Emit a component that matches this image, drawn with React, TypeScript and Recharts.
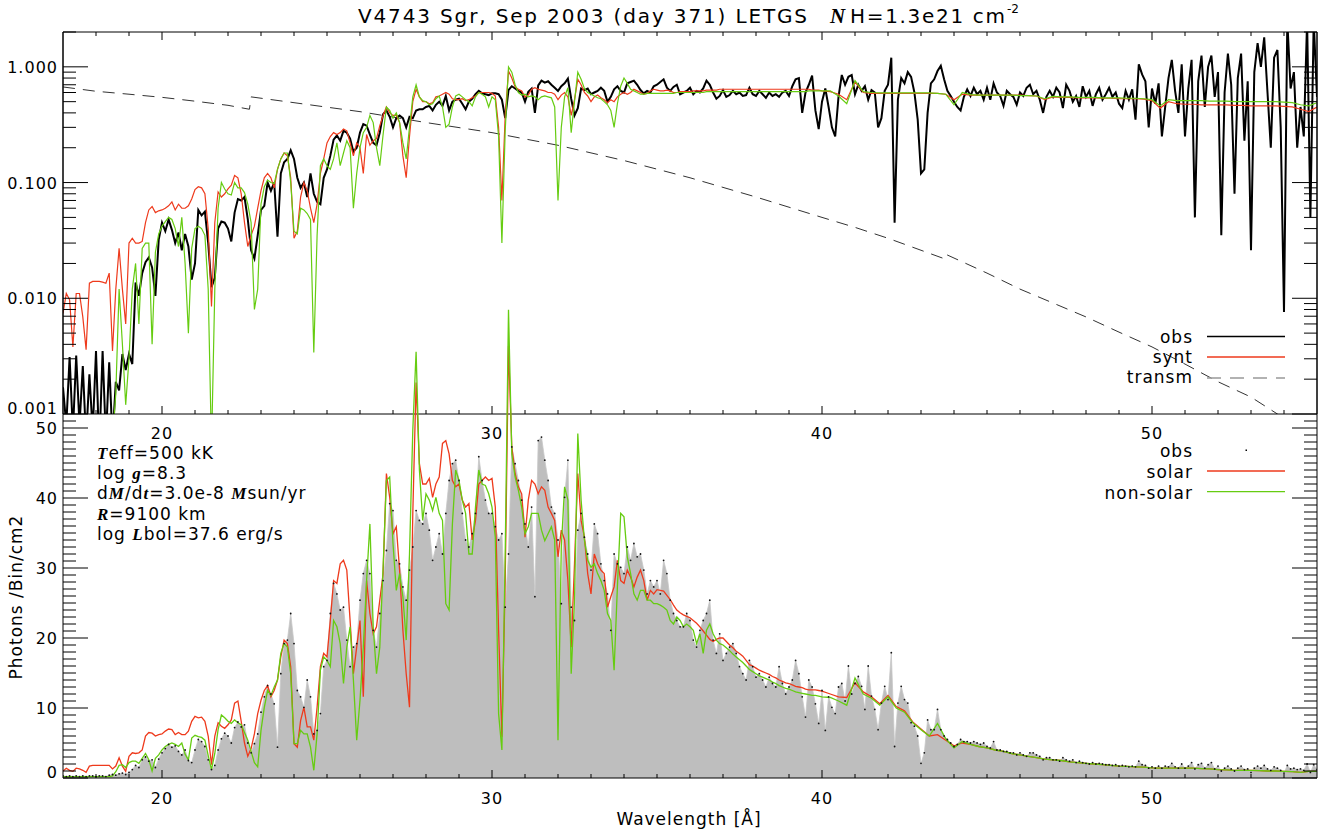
import React from 'react';
import { LineChart, ComposedChart, Line, Area, XAxis, YAxis } from 'recharts';

const W = 1321;
const H = 830;
const PL = 63;
const PR = 1317;
const PT = 32;
const PM = 414;
const PB = 778;
const YW_L = 50; // left y-axis band width
const YW_R = 4; // right y-axis band width
const XH = 20; // x-axis band height

// wavelength grids (Angstrom)
const WL_OBS: number[] = Array.from({ length: 381 }, (_, i) => Math.round((17 + i * 0.1) * 10) / 10);
const WL_MODEL: number[] = [
  ...Array.from({ length: 231 }, (_, i) => Math.round((17 + i * 0.1) * 10) / 10),
  ...Array.from({ length: 60 }, (_, i) => 40.25 + i * 0.25),
];

// ---------- upper panel (log flux) ----------
const OBS_TOP: number[] = [
  0.0017, 0.0008, 0.0031, 0.0007, 0.0032, 0.0008, 0.0026, 0.0006, 0.0022, 0.0007, // 17
  0.0035, 0.0005, 0.0035, 0.0006, 0.0028, 0.0006, 0.0019, 0.0016, 0.0033, 0.0024, // 18
  0.0033, 0.0027, 0.0137, 0.0105, 0.0165, 0.0205, 0.0225, 0.0185, 0.0105, 0.032, // 19
  0.045, 0.038, 0.048, 0.039, 0.030, 0.037, 0.026, 0.036, 0.028, 0.0145, // 20
  0.020, 0.058, 0.052, 0.056, 0.030, 0.0125, 0.015, 0.040, 0.046, 0.045, // 21
  0.040, 0.031, 0.055, 0.072, 0.070, 0.075, 0.048, 0.026, 0.022, 0.035, // 22
  0.058, 0.063, 0.10, 0.085, 0.10, 0.034, 0.12, 0.15, 0.16, 0.19, // 23
  0.16, 0.11, 0.09, 0.10, 0.075, 0.12, 0.08, 0.068, 0.065, 0.11, // 24
  0.13, 0.17, 0.235, 0.255, 0.23, 0.28, 0.27, 0.24, 0.185, 0.20, // 25
  0.27, 0.32, 0.31, 0.26, 0.22, 0.21, 0.27, 0.39, 0.42, 0.37, // 26
  0.30, 0.36, 0.38, 0.36, 0.30, 0.37, 0.36, 0.42, 0.43, 0.43, // 27
  0.45, 0.46, 0.42, 0.47, 0.50, 0.46, 0.56, 0.42, 0.50, 0.52, // 28
  0.53, 0.48, 0.43, 0.50, 0.53, 0.58, 0.62, 0.59, 0.58, 0.57, // 29
  0.59, 0.59, 0.58, 0.52, 0.36, 0.63, 0.68, 0.65, 0.62, 0.60, // 30
  0.50, 0.61, 0.65, 0.40, 0.69, 0.76, 0.73, 0.75, 0.70, 0.66, // 31
  0.62, 0.68, 0.72, 0.79, 0.53, 0.38, 0.44, 0.65, 0.63, 0.65, // 32
  0.58, 0.60, 0.62, 0.66, 0.62, 0.50, 0.55, 0.64, 0.68, 0.62, // 33
  0.60, 0.72, 0.74, 0.76, 0.70, 0.63, 0.59, 0.62, 0.60, 0.68, // 34
  0.70, 0.74, 0.78, 0.66, 0.62, 0.67, 0.70, 0.58, 0.60, 0.62, // 35
  0.66, 0.58, 0.62, 0.60, 0.65, 0.76, 0.70, 0.60, 0.53, 0.56, // 36
  0.63, 0.55, 0.57, 0.62, 0.58, 0.60, 0.56, 0.57, 0.66, 0.58, // 37
  0.56, 0.62, 0.58, 0.54, 0.60, 0.56, 0.58, 0.55, 0.60, 0.62, // 38
  0.56, 0.68, 0.78, 0.80, 0.40, 0.60, 0.70, 0.84, 0.42, 0.29, // 39
  0.50, 0.65, 0.45, 0.30, 0.25, 0.55, 0.85, 0.70, 0.82, 0.85, // 40
  0.58, 0.70, 0.62, 0.68, 0.52, 0.63, 0.60, 0.30, 0.36, 0.62, // 41
  0.70, 1.20, 0.045, 0.52, 0.80, 0.72, 0.90, 0.82, 0.60, 0.35, // 42
  0.12, 0.13, 0.40, 0.72, 0.78, 0.92, 1.02, 0.78, 0.62, 0.56, // 43
  0.50, 0.45, 0.42, 0.55, 0.64, 0.56, 0.66, 0.58, 0.62, 0.52, // 44
  0.66, 0.52, 0.72, 0.60, 0.56, 0.46, 0.62, 0.58, 0.55, 0.47, // 45
  0.60, 0.56, 0.66, 0.70, 0.58, 0.62, 0.52, 0.40, 0.55, 0.62, // 46
  0.55, 0.66, 0.60, 0.44, 0.70, 0.62, 0.50, 0.56, 0.45, 0.68, // 47
  0.55, 0.62, 0.46, 0.58, 0.66, 0.52, 0.58, 0.66, 0.55, 0.60, // 48
  0.48, 0.44, 0.62, 0.52, 0.64, 0.35, 1.05, 0.86, 0.75, 0.30, // 49
  0.65, 0.48, 0.72, 0.25, 0.45, 0.80, 1.15, 0.62, 0.40, 1.05, // 50
  0.25, 0.65, 1.15, 0.05, 0.75, 1.25, 0.45, 1.0, 1.25, 0.55, // 51
  0.90, 0.035, 0.60, 1.3, 0.70, 0.08, 0.80, 1.3, 0.23, 0.75, // 52
  0.026, 0.90, 1.6, 1.0, 1.8, 0.60, 0.20, 1.20, 1.4, 0.30, // 53
  0.0076, 2.5, 0.65, 0.9, 0.20, 0.45, 0.25, 2.5, 0.05, 2.5, // 54
  0.55, // 55
];

const SYNT_TOP: number[] = [
  0.0074, 0.011, 0.0097, 0.0038, 0.011, 0.011, 0.0069, 0.0036, 0.0135, 0.014, // 17
  0.014, 0.014, 0.0138, 0.0135, 0.0165, 0.0035, 0.012, 0.027, 0.012, 0.006, // 18
  0.030, 0.033, 0.030, 0.030, 0.031, 0.045, 0.058, 0.062, 0.055, 0.057, // 19
  0.058, 0.060, 0.063, 0.068, 0.058, 0.065, 0.060, 0.060, 0.063, 0.072, // 20
  0.087, 0.092, 0.090, 0.080, 0.040, 0.0085, 0.045, 0.083, 0.075, 0.080, // 21
  0.088, 0.095, 0.115, 0.11, 0.08, 0.045, 0.028, 0.035, 0.042, 0.06, // 22
  0.085, 0.11, 0.12, 0.11, 0.09, 0.13, 0.16, 0.18, 0.17, 0.11, // 23
  0.033, 0.038, 0.075, 0.10, 0.085, 0.060, 0.045, 0.065, 0.12, 0.16, // 24
  0.22, 0.25, 0.27, 0.26, 0.27, 0.29, 0.28, 0.22, 0.17, 0.22, // 25
  0.20, 0.12, 0.26, 0.21, 0.23, 0.24, 0.31, 0.38, 0.45, 0.40, // 26
  0.38, 0.38, 0.33, 0.17, 0.11, 0.25, 0.50, 0.64, 0.55, 0.50, // 27
  0.50, 0.48, 0.49, 0.55, 0.56, 0.58, 0.60, 0.58, 0.53, 0.52, // 28
  0.52, 0.53, 0.51, 0.52, 0.54, 0.56, 0.60, 0.60, 0.60, 0.60, // 29
  0.59, 0.56, 0.30, 0.07, 0.38, 0.92, 0.80, 0.67, 0.64, 0.62, // 30
  0.55, 0.57, 0.64, 0.66, 0.64, 0.63, 0.62, 0.60, 0.60, 0.58, // 31
  0.52, 0.57, 0.60, 0.55, 0.38, 0.52, 0.78, 0.70, 0.60, 0.56, // 32
  0.50, 0.55, 0.57, 0.54, 0.52, 0.49, 0.52, 0.50, 0.55, 0.58, // 33
  0.60, 0.58, 0.60, 0.64, 0.62, 0.60, 0.58, 0.59, 0.62, 0.64, // 34
  0.63, 0.62, 0.62, 0.63, 0.62, 0.60, 0.60, 0.61, 0.61, 0.61, // 35
  0.61, 0.62, 0.62, 0.62, 0.62, 0.63, 0.63, 0.63, 0.63, 0.64, // 36
  0.64, 0.64, 0.64, 0.64, 0.64, 0.64, 0.64, 0.64, 0.64, 0.64, // 37
  0.64, 0.64, 0.64, 0.64, 0.64, 0.64, 0.64, 0.64, 0.64, 0.64, // 38
  0.64, 0.64, 0.64, 0.64, 0.64, 0.64, 0.64, 0.63, 0.63, 0.63, // 39
  0.62, // 40.0
  0.61, 0.58, 0.52, 0.74, // 40.25-41
  0.60, 0.59, 0.59, 0.59, // -42
  0.59, 0.59, 0.59, 0.59, // -43
  0.59, 0.59, 0.58, 0.52, // -44
  0.58, 0.57, 0.57, 0.57, // -45
  0.57, 0.57, 0.57, 0.57, // -46
  0.565, 0.56, 0.52, 0.55, // -47
  0.545, 0.545, 0.54, 0.54, // -48
  0.54, 0.535, 0.535, 0.53, // -49
  0.53, 0.53, 0.525, 0.51, // -50
  0.44, 0.50, 0.48, 0.475, // -51
  0.475, 0.47, 0.47, 0.47, // -52
  0.47, 0.465, 0.465, 0.46, // -53
  0.46, 0.46, 0.46, 0.455, // -54
  0.45, 0.43, 0.41, 0.45, // -55
];

const NONSOLAR_TOP: number[] = [
  0.0005, 0.0005, 0.0005, 0.0005, 0.0005, 0.0005, 0.0005, 0.0005, 0.0005, 0.0005, // 17
  0.0005, 0.0005, 0.0005, 0.0005, 0.0005, 0.0006, 0.0015, 0.012, 0.004, 0.0012, // 18
  0.003, 0.012, 0.020, 0.006, 0.027, 0.030, 0.030, 0.004, 0.025, 0.036, // 19
  0.042, 0.046, 0.050, 0.048, 0.040, 0.028, 0.050, 0.020, 0.005, 0.027, // 20
  0.040, 0.042, 0.040, 0.035, 0.012, 0.0005, 0.012, 0.060, 0.10, 0.088, // 21
  0.080, 0.078, 0.10, 0.090, 0.090, 0.082, 0.065, 0.045, 0.008, 0.012, // 22
  0.065, 0.092, 0.105, 0.10, 0.098, 0.13, 0.16, 0.18, 0.18, 0.10, // 23
  0.038, 0.036, 0.060, 0.058, 0.054, 0.048, 0.0034, 0.035, 0.14, 0.16, // 24
  0.14, 0.13, 0.16, 0.22, 0.14, 0.18, 0.23, 0.20, 0.06, 0.12, // 25
  0.20, 0.27, 0.30, 0.38, 0.33, 0.20, 0.14, 0.26, 0.45, 0.42, // 26
  0.36, 0.40, 0.33, 0.22, 0.16, 0.30, 0.55, 0.70, 0.55, 0.51, // 27
  0.50, 0.47, 0.48, 0.53, 0.56, 0.45, 0.30, 0.32, 0.45, 0.56, // 28
  0.58, 0.55, 0.52, 0.50, 0.46, 0.55, 0.60, 0.58, 0.55, 0.45, // 29
  0.55, 0.52, 0.25, 0.03, 0.28, 1.0, 0.90, 0.70, 0.60, 0.57, // 30
  0.58, 0.55, 0.56, 0.55, 0.52, 0.55, 0.56, 0.55, 0.54, 0.45, // 31
  0.07, 0.30, 0.55, 0.66, 0.27, 0.50, 0.90, 0.78, 0.65, 0.60, // 32
  0.58, 0.56, 0.54, 0.53, 0.50, 0.47, 0.42, 0.30, 0.48, 0.68, // 33
  0.80, 0.72, 0.64, 0.62, 0.60, 0.58, 0.58, 0.59, 0.59, 0.59, // 34
  0.59, 0.59, 0.59, 0.59, 0.59, 0.59, 0.60, 0.60, 0.60, 0.60, // 35
  0.60, 0.60, 0.60, 0.60, 0.60, 0.61, 0.61, 0.61, 0.61, 0.61, // 36
  0.61, 0.61, 0.61, 0.61, 0.61, 0.61, 0.61, 0.61, 0.61, 0.61, // 37
  0.61, 0.61, 0.61, 0.61, 0.61, 0.61, 0.61, 0.61, 0.61, 0.61, // 38
  0.61, 0.61, 0.61, 0.61, 0.61, 0.61, 0.62, 0.62, 0.62, 0.62, // 39
  0.62, // 40.0
  0.62, 0.56, 0.48, 0.76, // -41
  0.61, 0.60, 0.595, 0.595, // -42
  0.595, 0.595, 0.595, 0.595, // -43
  0.595, 0.59, 0.58, 0.47, // -44
  0.60, 0.575, 0.57, 0.57, // -45
  0.57, 0.57, 0.57, 0.565, // -46
  0.565, 0.56, 0.53, 0.555, // -47
  0.55, 0.55, 0.545, 0.545, // -48
  0.545, 0.54, 0.54, 0.54, // -49
  0.535, 0.535, 0.53, 0.52, // -50
  0.46, 0.52, 0.51, 0.51, // -51
  0.51, 0.51, 0.505, 0.505, // -52
  0.505, 0.50, 0.50, 0.50, // -53
  0.50, 0.50, 0.50, 0.495, // -54
  0.49, 0.47, 0.46, 0.49, // -55
];

const TRANSM_WL: number[] = [17, 18, 19, 20, 21, 22, 22.65, 22.7, 24, 26, 28, 30, 32, 34, 36, 38, 40, 41, 42, 43, 43.7, 43.75, 45, 46, 47, 48, 49, 50, 51, 52, 53, 53.8, 54.5];
const TRANSM: number[] = [0.67, 0.615, 0.58, 0.545, 0.505, 0.465, 0.43, 0.55, 0.49, 0.41, 0.33, 0.27, 0.21, 0.155, 0.11, 0.075, 0.05, 0.041, 0.033, 0.026, 0.022, 0.024, 0.0165, 0.012, 0.0091, 0.0069, 0.0051, 0.0038, 0.0027, 0.0019, 0.0014, 0.001, 0.0007];

// ---------- lower panel (photons / bin / cm2) ----------
const OBS_BOT: number[] = [
  0.3, 0.2, 0.3, 0.2, 0.3, 0.2, 0.3, 0.2, 0.3, 0.3, // 17
  0.2, 0.3, 0.3, 0.2, 0.4, 0.5, 0.4, 0.6, 0.7, 0.5, // 18
  0.8, 1.2, 1.8, 1.5, 2.6, 3.0, 2.4, 2.6, 1.5, 2.7, // 19
  3.6, 4.2, 4.8, 4.4, 4.6, 3.8, 3.3, 4.0, 2.5, 2.2, // 20
  4.0, 5.5, 5.2, 4.5, 2.6, 1.2, 1.8, 4.0, 5.6, 6.4, // 21
  6.0, 5.0, 7.2, 8.0, 7.3, 7.6, 5.0, 3.6, 4.9, 6.3, // 22
  9.4, 11.6, 13.2, 12.0, 10.6, 4.4, 14.9, 19.2, 19.7, 23.5, // 23
  19.2, 12.5, 11.6, 10.1, 14.0, 11.6, 6.3, 6.8, 9.2, 15.9, // 24
  16.8, 23.5, 27.8, 26.3, 24.0, 24.4, 19.7, 15.9, 18.7, 19.2, // 25
  25.4, 29.2, 31.1, 29.2, 21.1, 18.7, 23.5, 28.2, 32.5, 39.2, // 26
  38.2, 31.1, 30.6, 27.3, 25.4, 29.7, 33.0, 38.2, 36.8, 36.3, // 27
  37.8, 35.4, 31.1, 33.0, 34.9, 32.0, 37.8, 42.5, 44.9, 45.4, // 28
  42.5, 37.8, 34.0, 33.0, 34.9, 37.8, 45.9, 42.5, 39.7, 37.8, // 29
  37.8, 35.9, 34.0, 34.9, 24.4, 32.0, 47.3, 44.9, 42.5, 39.7, // 30
  36.3, 33.0, 38.7, 25.9, 48.2, 48.7, 45.4, 42.5, 38.7, 37.8, // 31
  34.0, 24.9, 40.1, 45.4, 24.4, 22.5, 35.4, 37.8, 34.4, 32.0, // 32
  29.7, 36.3, 34.9, 30.6, 28.2, 26.3, 21.1, 32.0, 30.6, 30.1, // 33
  29.2, 33.0, 31.1, 33.5, 31.6, 32.0, 29.7, 26.3, 28.2, 27.3, // 34
  28.2, 26.3, 31.1, 29.2, 25.4, 23.5, 22.5, 21.6, 21.6, 23.5, // 35
  22.5, 19.7, 18.7, 21.1, 22.5, 23.5, 25.4, 19.7, 17.8, 20.6, // 36
  16.8, 17.8, 18.7, 19.2, 17.8, 15.9, 14.9, 14.0, 16.8, 15.9, // 37
  14.4, 14.9, 14.0, 13.0, 14.4, 13.5, 13.0, 15.9, 13.5, 12.0, // 38
  13.0, 14.0, 16.8, 14.9, 11.6, 8.7, 14.0, 13.0, 10.6, 7.8, // 39
  12.5, 6.8, 11.6, 10.1, 9.2, 13.0, 13.5, 11.0, 16.0, 12.0, // 40
  13.5, 14.5, 13.1, 9.8, 16.0, 11.7, 9.8, 6.9, 10.7, 13.1, // 41
  11.2, 17.9, 4.5, 10.7, 13.1, 11.2, 10.7, 7.9, 7.4, 6.0, // 42
  2.1, 3.6, 8.3, 6.9, 6.9, 9.8, 6.9, 6.0, 5.5, 5.0, // 43
  4.5, 4.8, 5.5, 5.2, 5.2, 5.0, 5.2, 5.0, 4.8, 5.0, // 44
  4.5, 4.3, 5.2, 4.0, 4.0, 3.8, 3.8, 3.6, 3.6, 3.3, // 45
  3.6, 3.3, 3.1, 3.6, 3.6, 3.3, 3.1, 2.6, 2.9, 2.9, // 46
  2.6, 2.6, 2.4, 2.9, 2.6, 2.4, 2.6, 2.2, 2.4, 2.2, // 47
  2.1, 2.0, 2.2, 2.0, 2.1, 2.0, 1.9, 1.9, 1.8, 1.9, // 48
  1.7, 1.8, 1.7, 1.6, 1.7, 1.6, 2.4, 1.9, 1.8, 1.4, // 49
  1.6, 1.4, 1.7, 1.4, 1.7, 1.6, 2.1, 1.6, 1.4, 2.0, // 50
  1.4, 1.7, 2.2, 1.3, 1.9, 2.1, 1.4, 1.9, 2.2, 1.3, // 51
  1.7, 1.0, 1.4, 1.7, 1.3, 1.0, 1.4, 1.7, 1.2, 1.3, // 52
  0.8, 1.4, 1.7, 1.4, 1.8, 1.3, 1.1, 1.6, 1.4, 1.1, // 53
  0.7, 1.8, 1.3, 1.4, 1.2, 1.3, 1.1, 2.0, 0.8, 1.9, // 54
  1.2, // 55
];

const SOLAR_BOT: number[] = [
  1.0, 1.4, 1.1, 0.95, 1.4, 1.3, 1.1, 0.8, 1.7, 1.8, // 17
  1.8, 1.8, 1.8, 1.8, 1.8, 1.3, 1.7, 2.9, 1.7, 0.95, // 18
  3.1, 3.6, 3.5, 3.6, 4.0, 6.0, 6.5, 6.4, 6.0, 6.2, // 19
  6.3, 6.7, 7.0, 6.9, 6.2, 6.5, 6.2, 6.2, 6.7, 8.1, // 20
  8.8, 8.6, 8.7, 8.1, 6.0, 1.9, 6.0, 7.9, 7.4, 7.1, // 21
  7.6, 8.3, 10.7, 11.0, 8.1, 5.0, 3.1, 4.2, 6.3, 9.2, // 22
  11.1, 12.5, 13.2, 11.6, 12.5, 14.0, 17.3, 19.7, 19.2, 15.9, // 23
  4.9, 4.4, 8.2, 10.1, 7.3, 7.3, 5.4, 10.1, 15.9, 17.8, // 24
  17.3, 22.5, 28.2, 27.8, 30.6, 31.1, 29.7, 22.5, 14.9, 18.7, // 25
  22.5, 11.6, 28.2, 23.5, 20.6, 21.6, 25.4, 29.2, 43.5, 40.1, // 26
  34.9, 35.9, 29.7, 21.1, 14.9, 10.1, 37.8, 56.5, 44.9, 42.0, // 27
  42.0, 42.8, 40.1, 42.0, 43.0, 47.8, 48.2, 46.3, 42.5, 41.6, // 28
  42.0, 39.7, 38.7, 39.2, 34.0, 36.8, 42.0, 42.5, 43.0, 42.5, // 29
  42.8, 38.7, 21.1, 5.9, 28.2, 61.7, 47.3, 43.5, 41.6, 40.6, // 30
  34.4, 39.7, 42.5, 42.0, 40.6, 41.6, 41.1, 38.7, 37.8, 36.8, // 31
  31.6, 35.4, 34.0, 28.2, 18.7, 30.6, 43.5, 36.8, 34.4, 29.2, // 32
  26.3, 32.0, 30.6, 29.7, 29.2, 24.4, 25.9, 27.3, 31.1, 28.2, // 33
  27.8, 29.7, 28.7, 27.3, 28.7, 29.7, 28.2, 25.4, 26.8, 26.3, // 34
  26.9, 26.8, 26.7, 26.1, 25.5, 24.7, 24.0, 23.6, 23.3, 23.1, // 35
  22.9, 22.5, 22.1, 21.6, 21.0, 20.4, 19.8, 19.5, 19.8, 20.0, // 36
  20.0, 19.5, 19.0, 18.6, 18.1, 17.8, 17.4, 16.8, 16.2, 16.0, // 37
  15.7, 15.4, 15.2, 15.0, 14.8, 14.5, 14.3, 14.0, 13.8, 13.6, // 38
  13.5, 13.3, 13.1, 13.0, 12.9, 12.7, 12.6, 12.6, 12.6, 12.5, // 39
  12.4, // 40.0
  12.0, 11.6, 11.5, 13.6, // -41
  12.3, 11.6, 10.6, 11.8, // -42
  10.2, 9.6, 8.0, 7.0, // -43
  6.0, 6.2, 5.4, 4.6, // -44
  5.0, 4.8, 4.5, 4.3, // -45
  4.0, 3.8, 3.5, 3.3, // -46
  3.1, 2.9, 2.7, 2.6, // -47
  2.5, 2.3, 2.2, 2.1, // -48
  2.0, 1.9, 1.8, 1.7, // -49
  1.65, 1.6, 1.55, 1.45, // -50
  1.4, 1.4, 1.4, 1.4, // -51
  1.4, 1.35, 1.3, 1.2, // -52
  1.15, 1.1, 1.1, 1.1, // -53
  1.05, 1.0, 1.0, 0.95, // -54
  0.9, 0.8, 0.95, 0.95, // -55
];

const NONSOLAR_BOT: number[] = [
  0.2, 0.2, 0.2, 0.2, 0.2, 0.2, 0.2, 0.2, 0.2, 0.2, // 17
  0.2, 0.2, 0.2, 0.2, 0.2, 0.3, 0.9, 1.8, 1.9, 1.5, // 18
  2.2, 2.4, 2.4, 2.1, 2.8, 3.5, 2.6, 1.0, 2.8, 3.3, // 19
  4.0, 4.5, 4.8, 5.0, 4.8, 4.5, 5.0, 3.4, 2.6, 5.7, // 20
  6.1, 5.9, 5.8, 5.4, 3.2, 1.2, 3.5, 6.9, 9.0, 8.6, // 21
  8.1, 7.8, 8.3, 7.9, 7.6, 6.5, 5.4, 3.8, 2.2, 1.6, // 22
  6.8, 10.1, 12.5, 11.8, 13.0, 14.0, 17.8, 19.2, 18.7, 14.9, // 23
  4.9, 4.9, 6.8, 6.3, 6.3, 4.4, 1.1, 6.3, 15.4, 17.3, // 24
  16.8, 15.9, 22.5, 21.6, 19.2, 13.5, 18.7, 21.6, 14.0, 5.4, // 25
  11.1, 18.7, 28.2, 36.3, 21.6, 14.9, 18.7, 30.1, 42.5, 43.0, // 26
  33.5, 26.8, 29.2, 25.9, 19.7, 32.0, 49.7, 60.9, 44.0, 36.8, // 27
  40.6, 39.7, 38.2, 40.1, 37.8, 36.8, 24.9, 24.0, 36.3, 44.0, // 28
  42.5, 39.7, 37.8, 32.0, 32.0, 38.7, 44.0, 42.0, 41.8, 40.6, // 29
  38.7, 34.4, 9.2, 4.0, 32.0, 66.9, 46.3, 43.0, 41.1, 38.7, // 30
  34.9, 35.9, 37.8, 37.8, 37.8, 35.4, 33.9, 34.9, 35.9, 34.0, // 31
  5.4, 33.0, 41.6, 39.7, 14.9, 25.4, 49.2, 39.7, 34.0, 31.1, // 32
  30.1, 30.6, 29.2, 28.2, 26.8, 23.5, 22.5, 15.4, 27.3, 37.8, // 33
  37.3, 31.6, 29.2, 26.3, 25.4, 26.8, 26.8, 25.4, 25.4, 24.9, // 34
  24.9, 24.7, 24.4, 24.0, 22.5, 22.0, 23.0, 22.5, 21.6, 22.0, // 35
  21.6, 21.1, 19.2, 20.6, 17.8, 21.1, 22.0, 20.6, 19.7, 19.2, // 36
  19.0, 18.6, 18.2, 17.7, 17.3, 16.9, 16.5, 16.0, 15.5, 15.2, // 37
  14.9, 14.6, 14.4, 14.2, 14.0, 13.7, 13.5, 13.2, 13.0, 12.8, // 38
  12.7, 12.5, 12.3, 12.2, 12.1, 12.0, 11.9, 11.8, 11.8, 11.7, // 39
  11.6, // 40.0
  11.5, 11.0, 10.4, 14.3, // -41
  12.0, 11.4, 10.4, 11.6, // -42
  10.0, 9.4, 7.9, 6.9, // -43
  6.0, 7.8, 5.6, 4.3, // -44
  5.2, 4.8, 4.5, 4.3, // -45
  4.0, 3.8, 3.5, 3.3, // -46
  3.1, 2.9, 2.7, 2.6, // -47
  2.5, 2.3, 2.2, 2.1, // -48
  2.0, 1.9, 1.8, 1.7, // -49
  1.65, 1.6, 1.55, 1.45, // -50
  1.4, 1.4, 1.4, 1.4, // -51
  1.4, 1.35, 1.3, 1.2, // -52
  1.15, 1.1, 1.1, 1.1, // -53
  1.05, 1.0, 1.0, 0.95, // -54
  0.9, 0.8, 0.95, 0.95, // -55
];

// ---------- axes ----------
const X_TICKS: number[] = Array.from({ length: 37 }, (_, i) => 18 + i); // 18..54
const LOG_DECADES: number[] = [0.001, 0.01, 0.1, 1];
const LOG_TICKS: number[] = LOG_DECADES.flatMap((d) => (d < 1 ? [1, 2, 3, 4, 5, 6, 7, 8, 9].map((m) => m * d) : [1, 2]));
const LIN_TICKS: number[] = Array.from({ length: 52 }, (_, i) => i); // 0..51

const TITLE_MAIN = 'V4743 Sgr, Sep 2003 (day 371) LETGS';
const TITLE_NH = 'H=1.3e21 cm';

const RED = '#ee3a1c';
const GREEN = '#66cc11';
const FONT = "'DejaVu Sans', sans-serif";
const SERIF = "'Liberation Serif', 'DejaVu Serif', serif";

const pts = (xs: number[], ys: number[]) => ys.map((y, i) => ({ x: xs[i], y }));

const tickText: React.CSSProperties = { fontFamily: FONT, fontSize: 16, letterSpacing: 1 };

const isDecade = (v: number) => Math.abs(Math.log10(v) - Math.round(Math.log10(v))) < 1e-9;

const logTickL = (p: any) => {
  const v = p.payload.value as number;
  const y = p.y as number;
  const major = isDecade(v);
  const shift = Math.abs(v - 0.001) < 1e-12 ? -6 : 0;
  return (
    <g>
      <line x1={PL} x2={PL + (major ? 25 : 13)} y1={y} y2={y} stroke="#000" strokeWidth={1} />
      {major ? (
        <text x={58} y={y + 6 + shift} textAnchor="end" style={tickText} fill="#000">
          {v.toFixed(3)}
        </text>
      ) : null}
    </g>
  );
};
const logTickR = (p: any) => {
  const v = p.payload.value as number;
  const y = p.y as number;
  const major = isDecade(v);
  return <line x1={PR} x2={PR - (major ? 25 : 13)} y1={y} y2={y} stroke="#000" strokeWidth={1} />;
};
const linTickL = (p: any) => {
  const v = p.payload.value as number;
  const y = p.y as number;
  const major = v % 10 === 0;
  const shift = v === 0 ? -6 : 0;
  return (
    <g>
      <line x1={PL} x2={PL + (major ? 25 : 13)} y1={y} y2={y} stroke="#000" strokeWidth={1} />
      {major ? (
        <text x={58} y={y + 6 + shift} textAnchor="end" style={tickText} fill="#000">
          {v}
        </text>
      ) : null}
    </g>
  );
};
const linTickR = (p: any) => {
  const v = p.payload.value as number;
  const y = p.y as number;
  const major = v % 10 === 0;
  return <line x1={PR} x2={PR - (major ? 25 : 13)} y1={y} y2={y} stroke="#000" strokeWidth={1} />;
};
const xTick = (edge: number, dir: number, labelY: number | null) => (p: any) => {
  const v = p.payload.value as number;
  const x = p.x as number;
  const major = v % 10 === 0;
  return (
    <g>
      <line x1={x} x2={x} y1={edge} y2={edge + dir * (major ? 8 : 4)} stroke="#000" strokeWidth={1} />
      {major && labelY !== null ? (
        <text x={x} y={labelY} textAnchor="middle" style={tickText} fill="#000">
          {v}
        </text>
      ) : null}
    </g>
  );
};

const axisLine = { stroke: '#000', strokeWidth: 1 };

const Mi = ({ children }: { children: React.ReactNode }) => (
  <tspan fontFamily={SERIF} fontStyle="italic" fontWeight="bold" fontSize={17}>
    {children}
  </tspan>
);

export default function App() {
  const obsTop = pts(WL_OBS, OBS_TOP);
  const syntTop = pts(WL_MODEL, SYNT_TOP);
  const nonsolTop = pts(WL_MODEL, NONSOLAR_TOP);
  const transm = pts(TRANSM_WL, TRANSM);
  const obsBot = pts(WL_OBS, OBS_BOT);
  const solarBot = pts(WL_MODEL, SOLAR_BOT);
  const nonsolBot = pts(WL_MODEL, NONSOLAR_BOT);

  const txt: React.CSSProperties = { fontFamily: FONT, fontSize: 17, letterSpacing: 1 };

  return (
    <div style={{ position: 'absolute', left: 0, top: 0, width: W, height: H, background: '#fff' }}>
      {/* upper panel */}
      <div style={{ position: 'absolute', left: 0, top: 0 }}>
        <LineChart width={W} height={H}
          margin={{ top: PT - XH, right: W - PR - YW_R, bottom: H - PM - XH, left: PL - YW_L }}>
          <XAxis xAxisId="b" type="number" dataKey="x" domain={[17, 55]} allowDataOverflow orientation="bottom" height={XH}
            ticks={X_TICKS} interval={0} tickLine={false} axisLine={axisLine} tick={xTick(PM, -1, 439)} />
          <XAxis xAxisId="t" type="number" dataKey="x" domain={[17, 55]} allowDataOverflow orientation="top" height={XH}
            ticks={X_TICKS} interval={0} tickLine={false} axisLine={axisLine} tick={xTick(PT, 1, null)} />
          <YAxis yAxisId="l" type="number" scale="log" domain={[0.001, 2]} allowDataOverflow orientation="left" width={YW_L}
            ticks={LOG_TICKS} interval={0} tickLine={false} axisLine={axisLine} tick={logTickL} />
          <YAxis yAxisId="r" type="number" scale="log" domain={[0.001, 2]} allowDataOverflow orientation="right" width={YW_R}
            ticks={LOG_TICKS} interval={0} tickLine={false} axisLine={axisLine} tick={logTickR} />
          <Line xAxisId="b" yAxisId="l" data={transm} dataKey="y" type="linear" stroke="#333" strokeWidth={1}
            strokeDasharray="12 8" dot={false} isAnimationActive={false} />
          <Line xAxisId="b" yAxisId="l" data={obsTop} dataKey="y" type="linear" stroke="#000" strokeWidth={2}
            dot={false} isAnimationActive={false} />
          <Line xAxisId="b" yAxisId="l" data={syntTop} dataKey="y" type="linear" stroke={RED} strokeWidth={1.2}
            dot={false} isAnimationActive={false} />
          <Line xAxisId="b" yAxisId="l" data={nonsolTop} dataKey="y" type="linear" stroke={GREEN} strokeWidth={1.2}
            dot={false} isAnimationActive={false} />
          {/* series bound to the frame axes so they always get a scale */}
          <Line xAxisId="t" yAxisId="r" data={transm} dataKey="y" stroke="none" dot={false} isAnimationActive={false} />
        </LineChart>
      </div>

      {/* lower panel (plot area extended upward so the model peaks overflow as in the original) */}
      <div style={{ position: 'absolute', left: 0, top: 0 }}>
        <ComposedChart width={W} height={H}
          margin={{ top: PT, right: W - PR - YW_R, bottom: H - PB - XH, left: PL - YW_L }}>
          <XAxis xAxisId="b" type="number" dataKey="x" domain={[17, 55]} allowDataOverflow orientation="bottom" height={XH}
            ticks={X_TICKS} interval={0} tickLine={false} axisLine={axisLine} tick={xTick(PB, -1, 804)} />
          <YAxis yAxisId="l" type="number" domain={[0, (PB - PT) / 7]} allowDataOverflow orientation="left" width={YW_L}
            ticks={LIN_TICKS} interval={0} tickLine={false} axisLine={axisLine} tick={linTickL} />
          <YAxis yAxisId="r" type="number" domain={[0, (PB - PT) / 7]} allowDataOverflow orientation="right" width={YW_R}
            ticks={LIN_TICKS} interval={0} tickLine={false} axisLine={axisLine} tick={linTickR} />
          <Area xAxisId="b" yAxisId="l" data={obsBot} dataKey="y" type="linear" stroke="#c8c8c8" strokeWidth={0.8}
            fill="#bebebe" fillOpacity={1} dot={{ r: 0.9, fill: '#111', stroke: 'none' }} activeDot={false}
            isAnimationActive={false} />
          <Line xAxisId="b" yAxisId="l" data={solarBot} dataKey="y" type="linear" stroke={RED} strokeWidth={1.3}
            dot={false} isAnimationActive={false} />
          <Line xAxisId="b" yAxisId="l" data={nonsolBot} dataKey="y" type="linear" stroke={GREEN} strokeWidth={1.3}
            dot={false} isAnimationActive={false} />
          <Line xAxisId="b" yAxisId="r" data={obsBot} dataKey="y" stroke="none" dot={false} isAnimationActive={false} />
        </ComposedChart>
      </div>

      {/* texts, legends */}
      <svg width={W} height={H} style={{ position: 'absolute', left: 0, top: 0, pointerEvents: 'none' }}>
        <text x={358} y={23} textLength={449} lengthAdjust="spacing" style={{ fontFamily: FONT, fontSize: 20 }} fill="#000">
          {TITLE_MAIN}
        </text>
        <text x={830} y={23} style={{ fontFamily: SERIF, fontSize: 21, fontStyle: 'italic', fontWeight: 'bold' }} fill="#000">N</text>
        <text x={850} y={23} textLength={155} lengthAdjust="spacing" style={{ fontFamily: FONT, fontSize: 20 }} fill="#000">
          {TITLE_NH}
        </text>
        <text x={1007} y={13} style={{ fontFamily: FONT, fontSize: 12 }} fill="#000">-2</text>

        <text transform="translate(22 597) rotate(-90)" textAnchor="middle" style={txt} fill="#000">
          Photons /Bin/cm2
        </text>
        <text x={689} y={825} textAnchor="middle" style={txt} fill="#000">Wavelength [Å]</text>

        {/* upper legend */}
        <text x={1193} y={343} textAnchor="end" style={txt} fill="#000">obs</text>
        <line x1={1207} x2={1285} y1={336.5} y2={336.5} stroke="#000" strokeWidth={1.3} />
        <text x={1193} y={363} textAnchor="end" style={txt} fill="#000">synt</text>
        <line x1={1207} x2={1285} y1={357} y2={357} stroke={RED} strokeWidth={1.3} />
        <text x={1193} y={383} textAnchor="end" style={txt} fill="#000">transm</text>
        <line x1={1207} x2={1285} y1={378} y2={378} stroke="#999" strokeWidth={1.3} strokeDasharray="14 9" />

        {/* lower legend */}
        <text x={1193} y={457} textAnchor="end" style={txt} fill="#000">obs</text>
        <rect x={1245.5} y={449.5} width={1.5} height={1.5} fill="#000" />
        <text x={1193} y={478} textAnchor="end" style={txt} fill="#000">solar</text>
        <line x1={1207} x2={1285} y1={471} y2={471} stroke={RED} strokeWidth={1.3} />
        <text x={1193} y={498.5} textAnchor="end" style={txt} fill="#000">non-solar</text>
        <line x1={1207} x2={1285} y1={491.7} y2={491.7} stroke={GREEN} strokeWidth={1.3} />

        {/* model parameters */}
        <text x={97} y={459} style={txt} fill="#000"><Mi>T</Mi>eff=500 kK</text>
        <text x={97} y={479} style={txt} fill="#000">log <Mi>g</Mi>=8.3</text>
        <text x={97} y={499} style={txt} fill="#000">d<Mi>M</Mi>/d<Mi>t</Mi>=3.0e-8 <Mi>M</Mi>sun/yr</text>
        <text x={97} y={519.5} style={txt} fill="#000"><Mi>R</Mi>=9100 km</text>
        <text x={97} y={540} style={txt} fill="#000">log <Mi>L</Mi>bol=37.6 erg/s</text>
      </svg>
    </div>
  );
}
